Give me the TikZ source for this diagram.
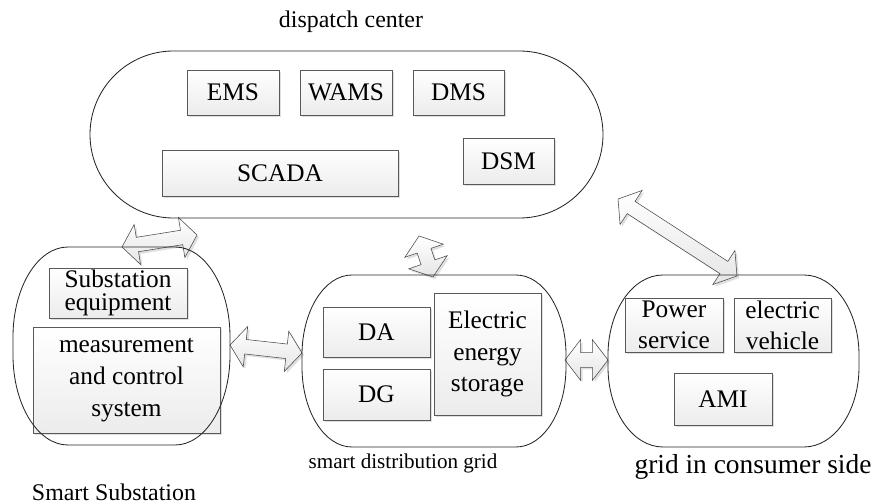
\documentclass[tikz,border=0pt]{standalone}
\usepackage{fontspec}
\setmainfont{Liberation Serif}
\usetikzlibrary{shapes.arrows,shadows,calc}

\newcommand{\pxu}{0.025cm}
% outline of an area: left, top, right, bottom, x radius, y radius
\newcommand{\ovalframe}[6]{%
  \draw[frame] (#1+#5,#2) -- (#3-#5,#2) arc[start angle=90,end angle=0,x radius=#5*\pxu,y radius=#6*\pxu]
    -- (#3,#4+#6) arc[start angle=0,end angle=-90,x radius=#5*\pxu,y radius=#6*\pxu]
    -- (#1+#5,#4) arc[start angle=270,end angle=180,x radius=#5*\pxu,y radius=#6*\pxu]
    -- (#1,#2-#6) arc[start angle=180,end angle=90,x radius=#5*\pxu,y radius=#6*\pxu] -- cycle;}
% block arrow between two named coordinates
\newcommand{\linkarrow}[2]{%
  \path let \p1=($(#2)-(#1)$), \n1={veclen(\x1,\y1)}, \n2={atan2(\y1,\x1)} in
    node[link, minimum height=\n1, rotate=\n2] at ($(#1)!0.5!(#2)$) {};}

\begin{document}
\begin{tikzpicture}[x=\pxu, y=\pxu,
    box/.style 2 args={draw=gray!70!black, top color=white, bottom color=gray!15,
      drop shadow={opacity=0.25, shadow xshift=1.5pt, shadow yshift=-1.5pt},
      minimum width=#1*\pxu, minimum height=#2*\pxu, inner sep=0pt, align=center,
      font=\fontsize{18}{22}\selectfont},
    link/.style={double arrow, draw=gray!60!black, top color=white, bottom color=gray!20,
      drop shadow={opacity=0.25, shadow xshift=1.5pt, shadow yshift=-1.5pt},
      double arrow head extend=13*\pxu, double arrow tip angle=105,
      inner xsep=0pt, inner ysep=7*\pxu},
    frame/.style={draw=black!85, line width=0.6pt},
    caption/.style={inner sep=0pt}]
    \useasboundingbox (0,0) rectangle (875,-504);

    % captions
    \node[caption, font=\fontsize{17}{20}\selectfont] (capdc) at (351,-22) {dispatch center};
    \node[caption, font=\fontsize{17}{20}\selectfont] (capss) at (114,-492) {Smart Substation};
    \node[caption, font=\fontsize{15}{18}\selectfont] (capdg) at (403,-463) {smart distribution grid};
    \node[caption, font=\fontsize{19.5}{22}\selectfont] (capcs) at (753,-467) {grid in consumer side};

    % dispatch center
    \node[box={92}{45}] (ems) at (233,-92.5) {EMS};
    \node[box={92}{45}] (wams) at (346,-92.5) {WAMS};
    \node[box={91}{45}] (dms) at (458.5,-92.5) {DMS};
    \node[box={236}{46}] (scada) at (280,-173) {SCADA};
    \node[box={91}{46}] (dsm) at (508.5,-161) {DSM};

    % smart substation
    \node[box={138}{50}, font=\fontsize{18}{16.5}\selectfont] (sse) at (118,-293) {Substation\\equipment};
    \node[box={187}{106}, font=\fontsize{18}{22.5}\selectfont] (mcs) at (126.5,-380) {measurement\\and control\\system};

    % smart distribution grid
    \node[box={107}{50}] (da) at (376.5,-332) {DA};
    \node[box={107}{51}] (dg) at (376.5,-394.5) {DG};
    \node[box={107}{122}, font=\fontsize{18}{22.5}\selectfont] (ees) at (487.5,-354) {Electric\\energy\\storage};

    % grid in consumer side
    \node[box={98}{54}] (ps) at (674,-325) {Power\\service};
    \node[box={97}{54}] (ev) at (782.5,-325) {electric\\vehicle};
    \node[box={98}{52}] (ami) at (723,-399) {AMI};

    % arrow ends
    \coordinate (ss-top) at (122,-247);
    \coordinate (dc-sw) at (197,-235);
    \coordinate (ss-east) at (230,-345);
    \coordinate (dg-west) at (302,-353);
    \coordinate (dc-s) at (419,-236);
    \coordinate (dg-top) at (433,-277);
    \coordinate (dg-east) at (565,-360);
    \coordinate (cs-west) at (608,-360);
    \coordinate (dc-se) at (618,-199);
    \coordinate (cs-top) at (737,-276);

    \linkarrow{ss-top}{dc-sw}
    \linkarrow{ss-east}{dg-west}
    \linkarrow{dc-s}{dg-top}
    \linkarrow{dg-east}{cs-west}
    \linkarrow{dc-se}{cs-top}

    % areas
    \ovalframe{90}{-51}{603}{-218}{83.5}{83.5}
    \ovalframe{13}{-247}{230}{-445}{55}{90}
    \ovalframe{302}{-275}{566}{-447}{50}{80}
    \ovalframe{608}{-275}{859}{-447}{55}{80}
\end{tikzpicture}
\end{document}
